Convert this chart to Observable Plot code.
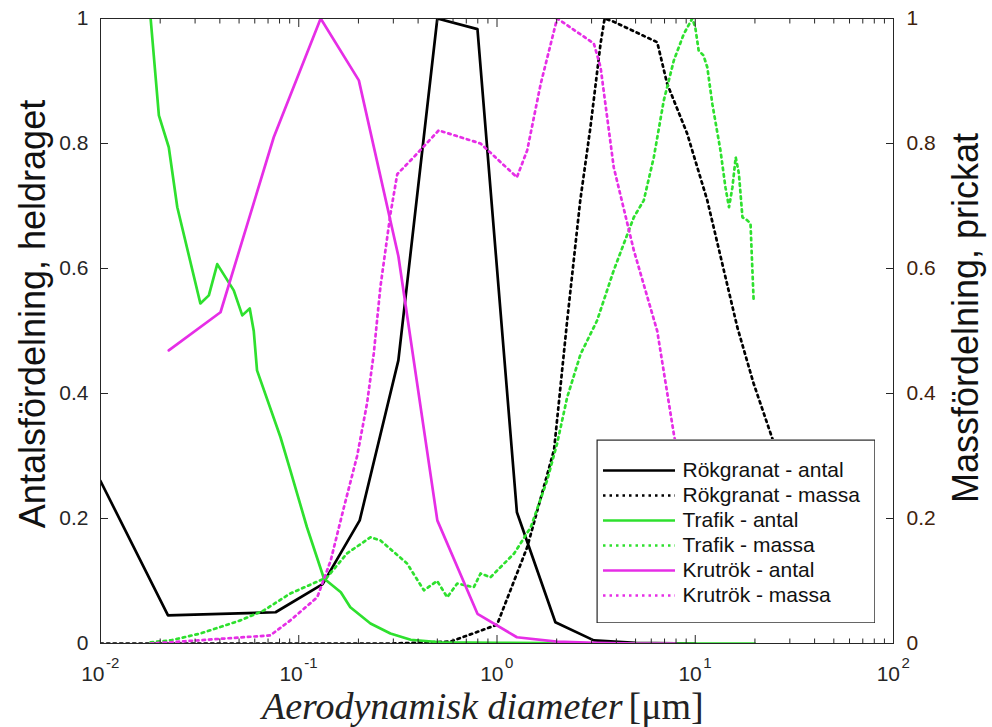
<!DOCTYPE html>
<html><head><meta charset="utf-8">
<script src="https://cdn.jsdelivr.net/npm/d3@7"></script>
<script src="https://cdn.jsdelivr.net/npm/@observablehq/plot@0.6"></script>
<style>
body{margin:0;background:#fff;}
#wrap{position:relative;width:992px;height:727px;overflow:hidden;}
#legend{position:absolute;left:596px;top:439px;}
</style></head><body><div id="wrap"><div id="main"></div><div id="legend"></div></div>
<script>
// ---- tick values & labels ----
const xTicks = [0.01, 0.1, 1, 10, 100];
const xTickExp = ["-2", "-1", "0", "1", "2"];
const yTicks = [0, 0.2, 0.4, 0.6, 0.8, 1];
const yTickLabels = ["0", "0.2", "0.4", "0.6", "0.8", "1"];
const xTitle = "Aerodynamisk diameter";
const xUnit = "[\u03bcm]";
const yLeftTitle = "Antalsfördelning, heldraget";
const yRightTitle = "Massfördelning, prickat";

// ---- series ----
const seriesNames = ["Rökgranat - antal", "Rökgranat - massa", "Trafik - antal", "Trafik - massa", "Krutrök - antal", "Krutrök - massa"];
const seriesColors = ["#000000", "#000000", "#2ee02e", "#2ee02e", "#e62ee6", "#e62ee6"];
const seriesDotted = [false, true, false, true, false, true];

const rokAntalX = [0.01, 0.0219, 0.0764, 0.132, 0.203, 0.318, 0.50, 0.797, 1.26, 1.97, 3.08, 5.0, 10];
const rokAntalY = [0.26, 0.045, 0.05, 0.095, 0.197, 0.453, 1.0, 0.983, 0.21, 0.034, 0.005, 0.001, 0.0];

const rokMassaX = [0.01, 0.1, 0.3, 0.582, 1.0, 1.42, 1.94, 2.26, 2.63, 2.96, 3.33, 3.49, 3.87, 6.43, 7.21, 9.1, 11.5, 16.3, 19.7, 24.0, 32];
const rokMassaY = [0, 0, 0, 0.003, 0.03, 0.154, 0.31, 0.517, 0.709, 0.826, 0.96, 1.0, 0.995, 0.962, 0.896, 0.816, 0.709, 0.506, 0.416, 0.336, 0.22];

const trafAntalX = [0.0179, 0.0197, 0.0221, 0.0244, 0.0319, 0.0352, 0.0388, 0.047, 0.0519, 0.0566, 0.0593, 0.0616, 0.0809, 0.0907, 0.110, 0.134, 0.163, 0.182, 0.230, 0.290, 0.367, 0.52, 1.0, 5.0, 20];
const trafAntalY = [1.0, 0.845, 0.794, 0.698, 0.544, 0.557, 0.607, 0.565, 0.525, 0.536, 0.50, 0.437, 0.33, 0.277, 0.186, 0.104, 0.082, 0.058, 0.032, 0.016, 0.006, 0.002, 0.001, 0, 0];

const trafMassaX = [0.0179, 0.0226, 0.0319, 0.0508, 0.0667, 0.0907, 0.139, 0.175, 0.230, 0.258, 0.352, 0.428, 0.499, 0.561, 0.63, 0.764, 0.826, 0.927, 1.22, 1.48, 1.79, 2.01, 2.26, 2.64, 3.20, 3.88, 4.90, 5.50, 6.18, 6.94, 7.80, 8.75, 9.66, 10.0, 10.4, 11.0, 11.5, 12.2, 13.4, 14.2, 14.8, 15.4, 16.0, 16.6, 17.3, 18.3, 19.0, 19.7];
const trafMassaY = [0.002, 0.005, 0.016, 0.037, 0.053, 0.08, 0.106, 0.144, 0.170, 0.165, 0.128, 0.085, 0.10, 0.074, 0.096, 0.09, 0.112, 0.106, 0.144, 0.186, 0.261, 0.32, 0.394, 0.463, 0.517, 0.597, 0.682, 0.709, 0.778, 0.869, 0.933, 0.975, 1.0, 0.986, 0.949, 0.941, 0.922, 0.863, 0.789, 0.730, 0.698, 0.730, 0.778, 0.752, 0.682, 0.677, 0.672, 0.549];

const krutAntalX = [0.0221, 0.0403, 0.0748, 0.129, 0.201, 0.318, 0.50, 0.797, 1.26, 2.0, 3.1, 5.0, 8.0];
const krutAntalY = [0.469, 0.530, 0.810, 1.0, 0.901, 0.62, 0.197, 0.0475, 0.01, 0.003, 0.001, 0, 0];

const krutMassaX = [0.0179, 0.0226, 0.0719, 0.0907, 0.124, 0.145, 0.169, 0.197, 0.221, 0.239, 0.258, 0.290, 0.314, 0.38, 0.508, 0.826, 1.26, 1.42, 1.66, 2.01, 2.08, 3.08, 3.33, 3.88, 4.90, 6.43, 7.80, 10];
const krutMassaY = [0, 0.002, 0.013, 0.037, 0.074, 0.133, 0.218, 0.30, 0.384, 0.464, 0.570, 0.687, 0.751, 0.778, 0.821, 0.80, 0.746, 0.789, 0.895, 1.0, 0.997, 0.96, 0.922, 0.762, 0.629, 0.50, 0.335, 0.15];

const seriesX = [rokAntalX, rokMassaX, trafAntalX, trafMassaX, krutAntalX, krutMassaX];
const seriesY = [rokAntalY, rokMassaY, trafAntalY, trafMassaY, krutAntalY, krutMassaY];

// ---- build ----
const rows = (xs, ys) => xs.map((x, i) => ({x, y: ys[i]}));
const minorTicks = [];
for (const d of [0.01, 0.1, 1, 10]) for (let k = 2; k <= 9; k++) minorTicks.push(d * k);

const FONT = "Liberation Sans, Arial, Helvetica, sans-serif";
const DASH = "2.5,4";
const SW = 2.7;
const axisColor = "#262626";
const rightColor = "#40220c";

const lineMarks = seriesNames.map((name, i) =>
  Plot.line(rows(seriesX[i], seriesY[i]), {
    x: "x", y: "y", stroke: seriesColors[i], strokeWidth: SW,
    strokeDasharray: seriesDotted[i] ? DASH : null, clip: true
  })
);

const negIdx = xTickExp.map((e, i) => i).filter(i => xTickExp[i].startsWith("-"));
const posIdx = xTickExp.map((e, i) => i).filter(i => !xTickExp[i].startsWith("-"));

const main = Plot.plot({
  width: 992, height: 727,
  marginLeft: 100, marginRight: 99, marginTop: 18, marginBottom: 84,
  style: {fontFamily: FONT, background: "white", overflow: "visible"},
  x: {type: "log", domain: [0.01, 100], axis: null},
  y: {domain: [0, 1], axis: null},
  marks: [
    ...lineMarks,
    Plot.frame({stroke: axisColor, strokeWidth: 1}),
    // major/minor inward ticks on x (bottom/top)
    Plot.axisX(xTicks, {anchor: "bottom", tickSize: -8, tickFormat: () => "", stroke: axisColor, label: null}),
    Plot.axisX(xTicks, {anchor: "top", tickSize: -8, tickFormat: () => "", stroke: axisColor, label: null}),
    Plot.axisX(minorTicks, {anchor: "bottom", tickSize: -4.5, tickFormat: () => "", stroke: axisColor, label: null}),
    Plot.axisX(minorTicks, {anchor: "top", tickSize: -4.5, tickFormat: () => "", stroke: axisColor, label: null}),
    // y ticks inward
    Plot.axisY(yTicks, {anchor: "left", tickSize: -8, tickFormat: () => "", stroke: axisColor, label: null}),
    Plot.axisY(yTicks, {anchor: "right", tickSize: -8, tickFormat: () => "", stroke: axisColor, label: null}),
    // y labels
    Plot.axisY(yTicks, {anchor: "left", tickSize: 0, tickPadding: 12, fontSize: 21, fill: axisColor,
      tickFormat: (d) => yTickLabels[yTicks.indexOf(d)], label: null}),
    Plot.axisY(yTicks, {anchor: "right", tickSize: 0, tickPadding: 13, fontSize: 21, fill: rightColor,
      tickFormat: (d) => yTickLabels[yTicks.indexOf(d)], label: null}),
    // x tick labels 10^n
    Plot.text(negIdx, {x: i => xTicks[i], text: () => "10", frameAnchor: "bottom", lineAnchor: "bottom", textAnchor: "end", dx: 4, dy: 37, fontSize: 21, fill: axisColor}),
    Plot.text(negIdx, {x: i => xTicks[i], text: i => xTickExp[i], frameAnchor: "bottom", lineAnchor: "bottom", textAnchor: "start", dx: 5.5, dy: 24, fontSize: 15, fill: axisColor}),
    Plot.text(posIdx, {x: i => xTicks[i], text: () => "10", frameAnchor: "bottom", lineAnchor: "bottom", textAnchor: "end", dx: 6.5, dy: 37, fontSize: 21, fill: axisColor}),
    Plot.text(posIdx, {x: i => xTicks[i], text: i => xTickExp[i], frameAnchor: "bottom", lineAnchor: "bottom", textAnchor: "start", dx: 8, dy: 24, fontSize: 15, fill: axisColor}),
    // titles
    Plot.text([xTitle], {text: d => d, frameAnchor: "bottom", lineAnchor: "bottom", textAnchor: "end", dx: 125.5, dy: 75.5, fontSize: 38, fontStyle: "italic", fontFamily: "Liberation Serif, Times New Roman, serif", fill: "#222"}),
    Plot.text([xUnit], {text: d => d, frameAnchor: "bottom", lineAnchor: "bottom", textAnchor: "start", dx: 131.5, dy: 75.5, fontSize: 38, fontFamily: "Liberation Serif, Times New Roman, serif", fill: "#222"}),
    Plot.text([yLeftTitle], {text: d => d, frameAnchor: "left", textAnchor: "middle", lineAnchor: "middle", rotate: -90, dx: -67, dy: -17, fontSize: 36, fill: "#111"}),
    Plot.text([yRightTitle], {text: d => d, frameAnchor: "right", textAnchor: "middle", lineAnchor: "middle", rotate: -90, dx: 73, dy: -13, fontSize: 36, fill: "#111"})
  ]
});
document.getElementById("main").appendChild(main);

// ---- legend (a separate small Plot) ----
const legendRows = seriesNames.map((name, i) => ({name, i}));
const legendLineMarks = seriesNames.map((name, i) =>
  Plot.ruleY([name], {y: d => d, x1: 0, x2: 1, stroke: seriesColors[i], strokeWidth: SW,
    strokeDasharray: seriesDotted[i] ? DASH : null})
);
const legend = Plot.plot({
  width: 279, height: 184, margin: 0,
  style: {fontFamily: FONT, background: "white"},
  x: {domain: [0, 1], range: [7, 79], axis: null},
  y: {type: "point", domain: seriesNames, range: [18, 169], axis: null},
  marks: [
    Plot.frame({fill: "white", stroke: axisColor, strokeWidth: 1.2, inset: 0.6}),
    ...legendLineMarks,
    Plot.text(legendRows, {y: "name", x: () => 1, text: "name", textAnchor: "start", dx: 7, fontSize: 21, fill: "#111"})
  ]
});
document.getElementById("legend").appendChild(legend);
</script>
</body></html>
